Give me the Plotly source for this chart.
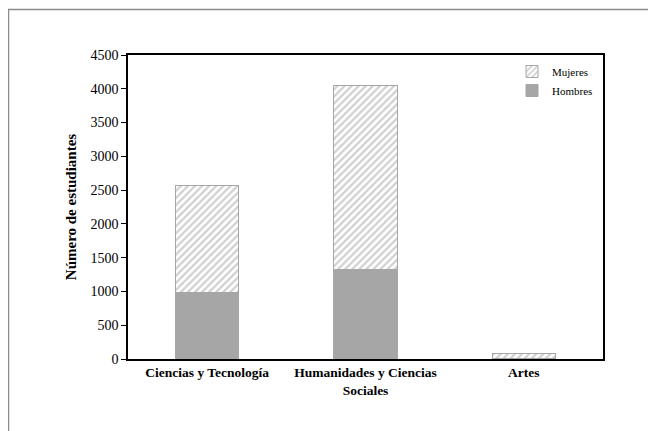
import plotly.graph_objects as go

categorias = ["Ciencias y Tecnología", "Humanidades y Ciencias<br>Sociales", "Artes"]
hombres = [990, 1330, 10]
mujeres = [1575, 2720, 75]
y_ticks = [0, 500, 1000, 1500, 2000, 2500, 3000, 3500, 4000, 4500]

# the page places the figure 8px in from the top-left corner
OFF = 8
W, H = 656 - OFF, 431 - OFF
L, T = 128 - OFF, 55 - OFF
R = W - (603 - OFF)
B = H - (359 - OFF)
pw, ph = W - L - R, H - T - B

fig = go.Figure()
fig.add_trace(go.Bar(
    x=categorias, y=hombres, name="Hombres",
    marker=dict(color="#a6a6a6", line=dict(color="#a6a6a6", width=1)),
    width=0.4,
))
fig.add_trace(go.Bar(
    x=categorias, y=mujeres, name="Mujeres",
    marker=dict(color="white", line=dict(color="#a6a6a6", width=1),
                pattern=dict(shape="/", fgcolor="#a0a0a0", bgcolor="white", size=5, solidity=0.45)),
    width=0.4,
))

def px_x(p):
    return (p - OFF - L) / pw

def px_y(p):
    return (H - B - (p - OFF)) / ph

fig.update_layout(
    width=W, height=H,
    margin=dict(l=L, r=R, t=T, b=B, autoexpand=False),
    paper_bgcolor="white", plot_bgcolor="white",
    barmode="stack",
    font=dict(family="Liberation Serif", size=14, color="black"),
    showlegend=True,
    legend=dict(x=px_x(512), y=px_y(57), xanchor="left", yanchor="top",
                traceorder="reversed", font=dict(size=11, family="Liberation Serif"),
                bgcolor="rgba(0,0,0,0)", itemwidth=30, tracegroupgap=0),
    xaxis=dict(showline=True, linecolor="black", linewidth=1.5, mirror=True, automargin=False,
               ticks="", tickfont=dict(size=13.5, family="Liberation Serif", color="black", weight="bold")),
    yaxis=dict(range=[0, 4500], tickvals=y_ticks, showline=True, linecolor="black", linewidth=1.5,
               mirror=True, ticks="outside", ticklen=5, tickcolor="black", showgrid=False, zeroline=False,
               automargin=False,
               tickfont=dict(size=14, family="Liberation Serif"),
               title=dict(text="<b>Número de estudiantes</b>", font=dict(size=15, family="Liberation Serif"),
                          standoff=10)),
    shapes=[
        dict(type="line", xref="paper", yref="paper", x0=px_x(8), x1=px_x(670), y0=px_y(9.5), y1=px_y(9.5),
             line=dict(color="#8c8c8c", width=1.5)),
        dict(type="line", xref="paper", yref="paper", x0=px_x(8.5), x1=px_x(8.5), y0=px_y(9.5), y1=px_y(450),
             line=dict(color="#8c8c8c", width=1.5)),
    ],
)

fig.write_html("out.html")
